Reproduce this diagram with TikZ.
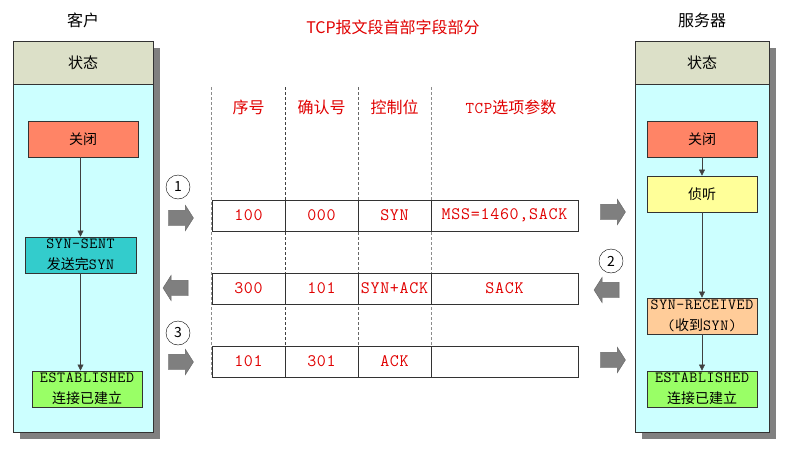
\documentclass[tikz,border=0pt]{standalone}
\usepackage{fontspec}
\setmainfont{Noto Sans CJK SC}
\setmonofont{Latin Modern Mono}[LetterSpace=4]
\usetikzlibrary{positioning,shapes.arrows,shadows,arrows.meta}
\definecolor{boxline}{HTML}{333333}
\definecolor{hdrgray}{HTML}{DCE0C8}
\definecolor{panelcyan}{HTML}{CCFFFF}
\definecolor{shadowgray}{HTML}{808080}
\definecolor{closedred}{HTML}{FF8466}
\definecolor{sentteal}{HTML}{33CCCC}
\definecolor{estgreen}{HTML}{99FF66}
\definecolor{listenyellow}{HTML}{FFFF99}
\definecolor{recvorange}{HTML}{FFCC99}
\definecolor{fieldred}{HTML}{E00000}
\definecolor{arrowgray}{HTML}{7F7F7F}
\newcommand\boxmono{\ttfamily\fontsize{15.5}{21}\selectfont}

\begin{document}
\begin{tikzpicture}[x=1pt,y=-1pt,
  panel/.style={draw=boxline,fill=panelcyan,line width=0.8pt,inner sep=0pt,
    minimum height=391pt,
    drop shadow={shadow xshift=7pt,shadow yshift=-7pt,fill=shadowgray,opacity=1}},
  panelhead/.style={draw=boxline,fill=hdrgray,line width=0.8pt,inner sep=0pt,
    minimum height=43pt,font=\fontsize{15}{15}\selectfont},
  statebox/.style={draw=boxline,line width=0.8pt,inner sep=0pt,
    minimum width=110pt,minimum height=36pt,align=center,
    font=\fontsize{14}{21}\selectfont},
  flow/.style={draw=black!75,-{Triangle[length=6pt,width=6pt]}},
  cell/.style={draw=boxline,line width=0.7pt,inner sep=0pt,
    minimum height=31pt,text=fieldred,font=\ttfamily\fontsize{17.5}{17.5}\selectfont},
  fieldhead/.style={text=fieldred,font=\fontsize{16}{16}\selectfont},
  guide/.style={densely dashed,line width=0.7pt},
  blockarrow/.style={single arrow,draw=arrowgray!80!black,fill=arrowgray,
    inner xsep=0pt,inner ysep=7.5pt,minimum height=25pt,
    single arrow head extend=5pt,single arrow tip angle=115},
  stepnum/.style={circle,draw=black,fill=white,inner sep=0pt,
    minimum size=24pt,font=\fontsize{14}{14}\selectfont}
]
\useasboundingbox (0,0) rectangle (792,455);

% client side
\node[fieldhead,text=black] (client) at (83,20) {客户};
\node[panel,minimum width=140pt] (cpanel) at (83,236.5) {};
\node[panelhead,minimum width=140pt,below=0pt of cpanel.north] (chead) {状态};

\node[statebox,fill=closedred] (cclose) at (83,139) {关闭};
\node[statebox,fill=sentteal,minimum width=111pt] (csent) at (80.5,255)
  {{\boxmono SYN-SENT}\\发送完{\boxmono SYN}};
\node[statebox,fill=estgreen] (cest) at (87,389)
  {{\boxmono ESTABLISHED}\\连接已建立};

\draw[flow] (cclose.south -| csent.north) -- (csent.north);
\draw[flow] (csent.south) -- (csent.south |- cest.north);

% server side
\node[fieldhead,text=black] (server) at (702,20) {服务器};
\node[panel,minimum width=134pt] (spanel) at (702,236.5) {};
\node[panelhead,minimum width=134pt,below=0pt of spanel.north] (shead) {状态};

\node[statebox,fill=closedred] (sclose) at (702,139) {关闭};
\node[statebox,fill=listenyellow] (slisten) at (702,194) {侦听};
\node[statebox,fill=recvorange] (srecv) at (702,316)
  {{\boxmono SYN-RECEIVED}\\{\boxmono(}收到{\boxmono SYN)}};
\node[statebox,fill=estgreen] (sest) at (702,389)
  {{\boxmono ESTABLISHED}\\连接已建立};

\draw[flow] (sclose) -- (slisten);
\draw[flow] (slisten) -- (srecv);
\draw[flow] (srecv) -- (sest);

% header fields in the middle
\node[fieldhead] (title) at (393,27) {TCP报文段首部字段部分};
\node[fieldhead] (hseq) at (248.5,107) {序号};
\node[fieldhead] (hack) at (321.5,107) {确认号};
\node[fieldhead] (hctl) at (394.5,107) {控制位};
\node[fieldhead] (hopt) at (511,107) {{\ttfamily\fontsize{16.5}{16.5}\selectfont TCP}选项参数};

\draw[guide,draw=black!45] (211,87) -- (211,377);
\draw[guide,draw=black!75] (285,87) -- (285,377);
\draw[guide,draw=black!60] (358,87) -- (358,377);
\draw[guide,draw=black!45] (431,87) -- (431,377);

% segment 1
\node[cell,minimum width=73pt] (r1seq) at (248.5,215.5) {100};
\node[cell,minimum width=73pt] (r1ack) at (321.5,215.5) {000};
\node[cell,minimum width=73pt] (r1ctl) at (394.5,215.5) {SYN};
\node[cell,minimum width=147pt] (r1opt) at (504.5,215.5) {MSS=1460,SACK};

% segment 2
\node[cell,minimum width=73pt] (r2seq) at (248.5,288.5) {300};
\node[cell,minimum width=73pt] (r2ack) at (321.5,288.5) {101};
\node[cell,minimum width=73pt] (r2ctl) at (394.5,288.5) {SYN+ACK};
\node[cell,minimum width=147pt] (r2opt) at (504.5,288.5) {SACK};

% segment 3
\node[cell,minimum width=73pt] (r3seq) at (248.5,361.5) {101};
\node[cell,minimum width=73pt] (r3ack) at (321.5,361.5) {301};
\node[cell,minimum width=73pt] (r3ctl) at (394.5,361.5) {ACK};
\node[cell,minimum width=147pt] (r3opt) at (504.5,361.5) {};

% direction of each segment
\node[stepnum] (n1) at (178,187) {1};
\node[blockarrow] (a1l) at (178.5,218) {};
\node[blockarrow] (a1r) at (610.5,212) {};

\node[stepnum] (n2) at (611,261) {2};
\node[blockarrow,shape border rotate=180] (a2r) at (609,290) {};
\node[blockarrow,shape border rotate=180] (a2l) at (178,288) {};

\node[stepnum] (n3) at (178,333) {3};
\node[blockarrow] (a3l) at (178.5,362) {};
\node[blockarrow] (a3r) at (610.5,360) {};

\end{tikzpicture}
\end{document}
